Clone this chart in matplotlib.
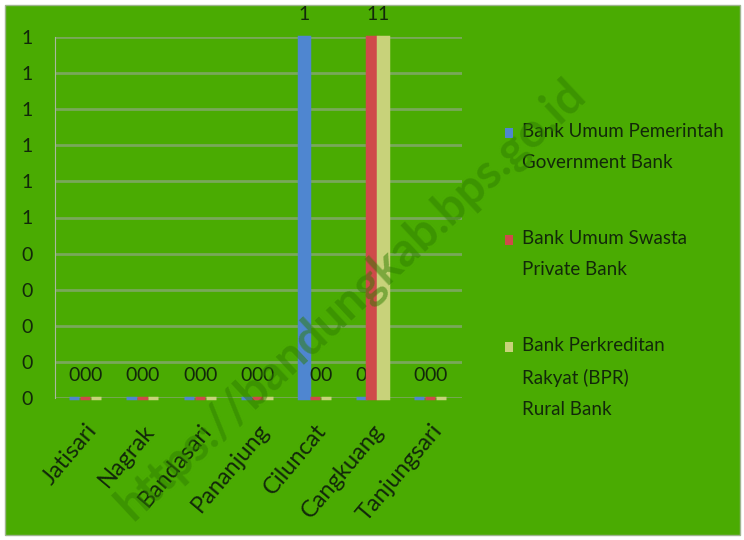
import numpy as np
import matplotlib.pyplot as plt
from matplotlib.patches import Rectangle

categories = ['Jatisari', 'Nagrak', 'Bandasari', 'Pananjung',
              'Ciluncat', 'Cangkuang', 'Tanjungsari']
gov_bank = [0, 0, 0, 0, 1, 0, 0]
private_bank = [0, 0, 0, 0, 0, 1, 0]
rural_bank = [0, 0, 0, 0, 0, 1, 0]
series_labels = ['Bank Umum Pemerintah\nGovernment Bank',
                 'Bank Umum Swasta\nPrivate Bank',
                 'Bank Perkreditan\nRakyat (BPR)\nRural Bank']
yticks = [0, 0.1, 0.2, 0.3, 0.4, 0.5, 0.6, 0.7, 0.8, 0.9, 1.0]
ytick_labels = ['0', '0', '0', '0', '0', '1', '1', '1', '1', '1', '1']

colors = ['#4f86d0', '#cf4a4a', '#c8d27a']
bg = '#4aab02'
txt = '#12280a'
plt.rcParams['font.family'] = ['Lato', 'DejaVu Sans']

fig = plt.figure(figsize=(7.44, 5.4), dpi=100, facecolor='white')
fig.patches.append(Rectangle((5/744, 5/540), 735/744, 530/540,
                             transform=fig.transFigure, facecolor=bg,
                             edgecolor='#9fb58f', lw=1, zorder=-5))

ax = fig.add_axes([55/744, 1 - 398/540, 407/744, 361/540])
ax.set_facecolor('none')
ax.set_zorder(2)

x = np.arange(len(categories))
w = 0.19
for i, (vals, c) in enumerate(zip([gov_bank, private_bank, rural_bank], colors)):
    pos = x + (i - 1) * w
    ax.bar(pos, vals, width=w * 0.95, color=c, edgecolor=c, lw=2.5, zorder=3,
           clip_on=False)
    for p, v in zip(pos, vals):
        ax.annotate(f'{v:d}', (p, v), xytext=(0, 10), textcoords='offset points',
                    ha='center', va='bottom', fontsize=14, color=txt)

ax.set_xlim(-0.52, len(categories) - 0.44)
ax.set_ylim(0, 1)
ax.set_yticks(yticks)
ax.set_yticklabels(ytick_labels, fontsize=14, color=txt)
ax.set_xticks(x)
ax.set_xticklabels(categories, rotation=50, ha='right', rotation_mode='anchor',
                   fontsize=17, color=txt)
ax.tick_params(length=0, axis='y', pad=16)
ax.tick_params(length=0, axis='x', pad=16)
ax.grid(axis='y', color='#79a85a', lw=2, zorder=1)
for s in ['top', 'right', 'bottom']:
    ax.spines[s].set_visible(False)
ax.spines['left'].set_color('#a9b9a0')

# legend drawn by hand so the marker sits at the first line
leg_y = [133, 240, 347]
for lab, c, yy in zip(series_labels, colors, leg_y):
    fig.patches.append(Rectangle((505/744, 1 - (yy + 5)/540), 8/744, 10/540,
                                 transform=fig.transFigure, facecolor=c,
                                 edgecolor='none'))
    fig.text(522/744, 1 - (yy - 10)/540, lab, fontsize=13.5, color=txt,
             va='top', ha='left', linespacing=2.0)

fig.text(350/744, 1 - 300/540, 'https://bandungkab.bps.go.id', rotation=43,
         fontsize=34, fontweight='bold', color='#2e7d00', alpha=0.5,
         ha='center', va='center', zorder=10)

fig.savefig('out.png', dpi=100, facecolor='white')
